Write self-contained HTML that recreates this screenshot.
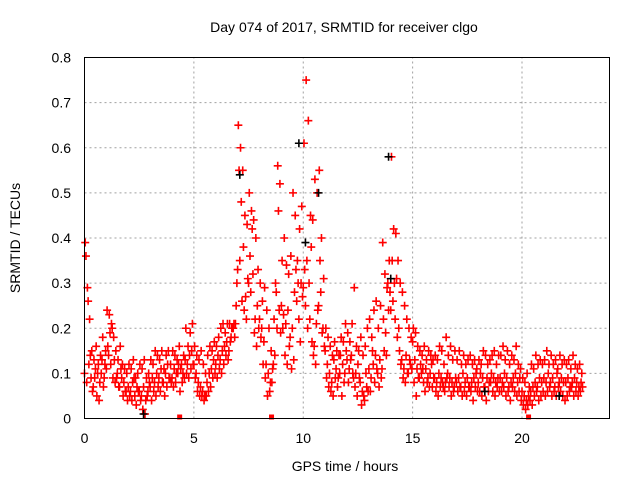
<!DOCTYPE html>
<html><head><meta charset="utf-8"><style>
html,body{margin:0;padding:0;background:#fff;}
svg{display:block;font-family:"Liberation Sans",sans-serif;}
</style></head><body>
<svg id="chart" width="640" height="480" viewBox="0 0 640 480">
<text x="344" y="32" font-size="14" text-anchor="middle" fill="#000">Day 074 of 2017, SRMTID for receiver clgo</text>
<text x="0" y="0" font-size="14" text-anchor="middle" transform="translate(20,238) rotate(-90)">SRMTID / TECUs</text>
<text x="345" y="471" font-size="14" text-anchor="middle">GPS time / hours</text>
<g id="grid"></g>
<g id="ticks"></g>
<g id="marks"></g>
<rect x="84.5" y="57.5" width="525" height="361" fill="none" stroke="#000" stroke-width="1"/>
</svg>
<script>
const hours = [];
for (let i = 0; i < 228; i++) hours.push(i / 10);
const tecuA = [10,8,12,9,7,11,10,8,13,9, 11,14,12,9,8,10,7,9,8,6, 7,6,8,5,7,6,5,7,4,6, 7,9,8,10,9,11,8,10,12,9, 9,11,10,12,11,10,13,12,14,15, 12,10,8,7,6,5,8,10,11,13, 12,14,13,15,16,17,15,18,20,21, 33,35,26,24,22,30,28,32,22,25, 22,20,17,12,10,8,11,14,20,24, 25,23,21,24,18,20,28,26,22,30, 29,25,20,22,17,16,21,25,28,20, 15,12,10,8,13,11,9,14,12,10, 13,11,14,9,10,12,8,6,4,7, 11,9,12,14,10,13,11,15,14,24, 24,26,22,18,15,13,11,14,10,12, 17,13,11,9,10,8,11,9,10,7, 9,8,10,9,7,8,10,9,8,7, 8,9,7,10,8,9,7,8,9,10, 8,10,9,7,9,8,10,9,8,9, 9,8,10,9,7,8,9,10,8,9, 6,5,4,5,6,7,8,7,9,8, 9,8,10,8,9,7,10,8,9,8, 8,9,7,8,9,8,7,8];
const tecuB = [39,29,22,15,13,16,12,14,18,12, 24,23,21,18,15,13,16,12,11,10, 12,11,13,9,10,12,11,13,9,10, 13,12,15,14,13,15,11,14,15,12, 15,14,13,16,12,14,20,16,19,21, 16,14,13,15,12,10,14,16,15,17, 16,18,20,21,19,21,21,20,21,25, 65,60,55,45,43,50,46,44,40,33, 30,26,29,24,20,15,12,30,56,52, 35,40,34,32,36,50,45,35,42,47, 61,75,66,45,44,53,50,55,40,31, 20,18,16,14,17,15,14,18,17,21, 19,17,21,29,16,15,18,14,16,20, 22,18,24,26,20,25,39,32,29,35, 58,42,41,35,30,28,25,22,20,18, 20,19,16,15,14,16,13,15,14,13, 14,13,16,15,12,18,14,16,13,15, 13,15,12,14,12,13,14,12,13,11, 13,12,15,14,12,13,14,15,12,14, 14,16,13,15,12,14,13,16,12,11, 9,8,10,7,12,11,14,12,13,12, 13,15,12,14,12,13,11,14,12,13, 12,13,11,14,12,11,12,10];
const tecuC = [36,26,14,6,9,5,4,10,7,15, 16,19,20,13,9,7,11,5,6,4, 5,4,9,3,6,4,2,1,5,8, 4,6,5,7,6,8,5,7,9,8, 7,8,10,6,8,9,10,9,11,12, 9,6,5,5,4,5,6,7,9,10, 9,11,10,12,14,13,17,20,18,30, 55,48,38,27,31,36,42,19,16,20, 18,12,9,5,6,8,22,28,46,19, 20,14,12,16,11,13,33,30,17,27, 33,35,30,38,14,12,24,35,19,16, 9,7,6,5,9,7,10,5,8,15, 8,13,10,7,5,9,3,5,10,6, 6,15,8,11,7,9,22,19,30,28, 35,30,31,20,12,9,8,10,13,11, 8,5,9,12,11,6,8,7,12,9, 6,5,7,8,6,9,7,5,6,9, 6,7,5,6,5,7,6,4,7,6, 6,5,7,4,6,8,6,5,7,6, 6,7,5,6,4,7,6,5,6,4, 3,2,3,4,3,5,6,4,5,6, 5,6,7,5,6,5,7,6,5,4, 5,6,7,5,6,5,6,7];
const blackHours = [2.7, 7.1, 9.8, 10.1, 10.7, 13.9, 14.0, 18.3, 21.7];
const blackTecu = [0.01, 0.54, 0.61, 0.39, 0.5, 0.58, 0.31, 0.06, 0.05];
const gapHours = [4.35, 8.55, 20.3];
const xTicks = [0, 5, 10, 15, 20];
const yTicks = [0, 0.1, 0.2, 0.3, 0.4, 0.5, 0.6, 0.7, 0.8];
const yTickLabels = ["0", "0.1", "0.2", "0.3", "0.4", "0.5", "0.6", "0.7", "0.8"];

const NS = "http://www.w3.org/2000/svg";
const X0 = 84.5, X1 = 609.5, Y0 = 418.5, Y1 = 57.5;
function xs(h) { return X0 + (h / 24) * (X1 - X0); }
function ys(v) { return Y0 - (v / 0.8) * (Y0 - Y1); }
function mk(tag, attrs, parent) {
  const e = document.createElementNS(NS, tag);
  for (const k in attrs) e.setAttribute(k, attrs[k]);
  parent.appendChild(e);
  return e;
}
const grid = document.getElementById("grid");
const ticks = document.getElementById("ticks");
const marks = document.getElementById("marks");

xTicks.forEach(function (t) {
  const x = xs(t);
  if (t > 0) {
    const g = mk("line", {x1: x, x2: x, y1: Y0, y2: Y1, stroke: "#a0a0a0", "stroke-dasharray": "2,3"}, grid);
    
    
  }
  const tl = mk("text", {x: x, y: 443, "font-size": "14", "text-anchor": "middle"}, ticks);
  tl.textContent = String(t);
  
  
});
yTicks.forEach(function (t, i) {
  const y = ys(t);
  if (t > 0 && t < 0.8) {
    const g = mk("line", {x1: X0, x2: X1, y1: y, y2: y, stroke: "#a0a0a0", "stroke-dasharray": "2,3"}, grid);
    
    
  }
  const tl = mk("text", {x: 71, y: y + 5, "font-size": "14", "text-anchor": "end"}, ticks);
  tl.textContent = yTickLabels[i];
  
  
});

function plus(h, v, color, name) {
  const x = xs(h), y = ys(v);
  const p = mk("path", {d: "M" + (x - 4) + " " + y + "h8M" + x + " " + (y - 4) + "v8", stroke: color, "stroke-width": "1.6", fill: "none"}, marks);
  
  
}
const offs = [0, 0.033, 0.066];
[tecuA, tecuB, tecuC].forEach(function (arr, s) {
  arr.forEach(function (v, i) {
    plus(hours[i] + offs[s], v / 100, "#ff0000", "srmtid-point");
  });
});
blackHours.forEach(function (h, i) {
  plus(h, blackTecu[i], "#000", "srmtid-point-black");
});
gapHours.forEach(function (h) {
  const r = mk("rect", {x: xs(h) - 2.5, y: Y0 - 4, width: 5, height: 5, fill: "#ff0000"}, marks);
  
  
});
</script>
</body></html>
